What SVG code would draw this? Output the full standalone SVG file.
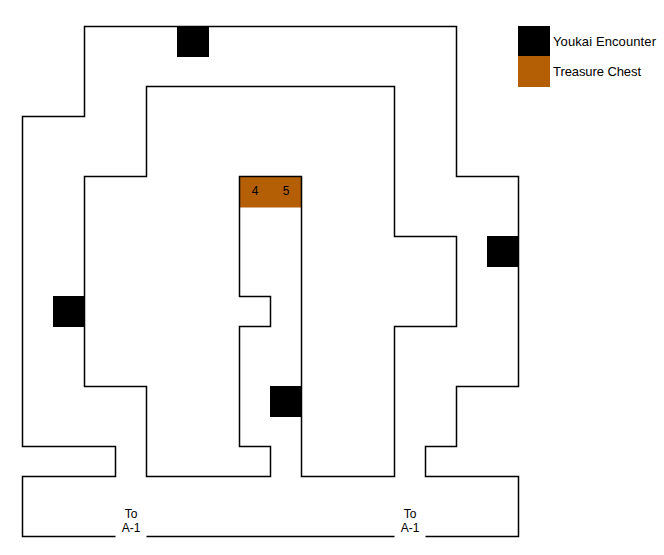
<svg xmlns="http://www.w3.org/2000/svg" width="664" height="555" viewBox="0 0 664 555">
<style>
.wall{fill:none;stroke:#000;stroke-width:1.5}
.y{fill:#000}
.t{fill:#b45f06}
text{font-family:"Liberation Sans",Arial,sans-serif;font-size:12px;fill:#000}
.m{text-anchor:middle}
.l{font-size:13px}
</style>
<rect width="664" height="555" fill="#fff"/>
<g id="chest-room"><rect class="t" x="239.5" y="176.5" width="62" height="31"/></g>
<g id="connectors">
<path class="wall" d="M115.5 536.5H22.5V476.5H115.5V446.5H22.5V116.5H84.5V26.5H456.5V176.5H518.5V386.5H456.5V446.5H425.5V476.5H518.5V536.5H425.5"/>
<path class="wall" d="M146.5 536.5H394.5"/>
<path class="wall" d="M146.5 476.5V386.5H84.5V176.5H146.5V86.5H394.5V236.5H456.5V326.5H394.5V476.5H301.5V176.5H239.5V296.5H270.5V326.5H239.5V446.5H270.5V476.5Z"/>
</g>
<g id="encounter-1"><rect class="y" x="177" y="26" width="32" height="31"/></g>
<g id="encounter-2"><rect class="y" x="487" y="236" width="32" height="31"/></g>
<g id="encounter-3"><rect class="y" x="53" y="296" width="32" height="31"/></g>
<g id="encounter-4"><rect class="y" x="270" y="386" width="32" height="31"/></g>
<g id="chest-4"><text class="m" x="255" y="195">4</text></g>
<g id="chest-5"><text class="m" x="286" y="195">5</text></g>
<g id="exit-left"><text class="m" x="131" y="518">To</text><text class="m" x="131" y="532">A-1</text></g>
<g id="exit-right"><text class="m" x="410" y="518">To</text><text class="m" x="410" y="532">A-1</text></g>
<g id="legend-encounter"><rect class="y" x="518" y="26" width="32" height="30"/><text class="l" x="553" y="46" textLength="103">Youkai Encounter</text></g>
<g id="legend-chest"><rect class="t" x="518" y="56" width="32" height="31"/><text class="l" x="553" y="76" textLength="88">Treasure Chest</text></g>
</svg>
